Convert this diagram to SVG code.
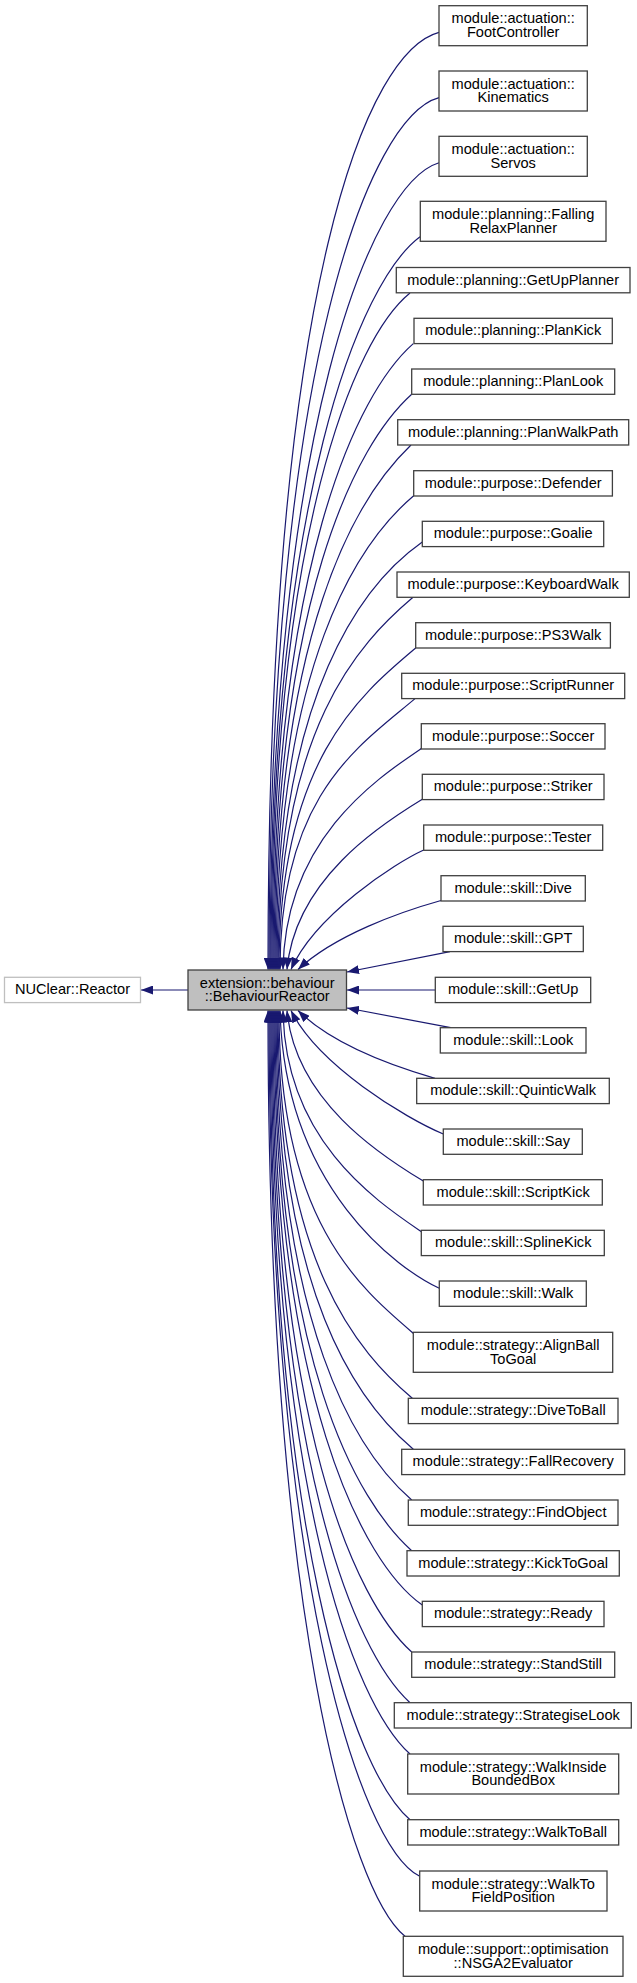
<svg xmlns="http://www.w3.org/2000/svg" width="637" height="1983" viewBox="0 0 637 1983">
<style>
.n rect{fill:#ffffff;stroke:#404040;stroke-width:1.3}
.main rect{fill:#bfbfbf;stroke:#404040;stroke-width:1.3}
.ext rect{fill:#ffffff;stroke:#bfbfbf;stroke-width:1.3}
text{font-family:"Liberation Sans",Arial,sans-serif;font-size:14.6px;text-anchor:middle;fill:#000000}
.e path{fill:none;stroke:#191970;stroke-width:1.2;marker-end:url(#ah)}
</style>
<defs>
<marker id="ah" viewBox="0 0 12 9" refX="12" refY="4.5" markerWidth="12" markerHeight="9" markerUnits="userSpaceOnUse" orient="auto">
<path d="M0,0 L12,4.5 L0,9 z" fill="#191970"/>
</marker>
</defs>
<rect x="0" y="0" width="637" height="1983" fill="#ffffff"/>
<g id="edges" class="e">
<path d="M188,990 L141,990"/>
<path d="M439,32.3 C370.6,50.1 268,266.6 268,969.5"/>
<path d="M439,97.7 C371,116.1 269,359.2 269,969.5"/>
<path d="M439,162.7 C371.4,183 270,428.9 270,969.5"/>
<path d="M420,236.7 C360.4,281.4 271,493.2 271,969.5"/>
<path d="M410,293 C354.8,337.5 272,530 272,969.5"/>
<path d="M413.3,343.6 C357.2,392.8 273,562.9 273,969.5"/>
<path d="M411.7,394.3 C356.6,443.9 274,595.6 274,969.5"/>
<path d="M411,445 C356.6,497 275,628.8 275,969.5"/>
<path d="M413.7,495.7 C358.6,542.5 276,661.5 276,969.5"/>
<path d="M422.3,542 C364.2,582.7 277,691.6 277,969.5"/>
<path d="M413,597.3 C359,643.2 278,727.6 278,969.5"/>
<path d="M415.7,648 C361,694 279,760.2 279,969.5"/>
<path d="M415,698.6 C361,744.6 280,793.5 280,969.5"/>
<path d="M421.3,748.5 C375,780 285,840 283,969.5"/>
<path d="M422.3,799.3 C380,825 295,880 287,969.5"/>
<path d="M423.7,850 C395,863 315,915 291,969.5"/>
<path d="M441,900.5 C400,912 335,935 298,969.5"/>
<path d="M450,951.6 L347,972"/>
<path d="M435.3,990 L347,990"/>
<path d="M450.7,1027.7 L347,1008"/>
<path d="M435,1078.3 C396,1067 333,1045 298,1010.5"/>
<path d="M443.3,1134 C405,1118 318,1065 291,1010.5"/>
<path d="M423.3,1181 C380,1155 295,1100 287,1010.5"/>
<path d="M421.3,1231.7 C375,1200 285,1140 283,1010.5"/>
<path d="M439.3,1288.3 C400,1270 285,1190 280,1010.5"/>
<path d="M413.3,1333.3 C359.6,1287.6 279,1220.3 279,1010.5"/>
<path d="M412.3,1398.3 C358.6,1352.6 278,1262.6 278,1010.5"/>
<path d="M413.3,1449.3 C358.8,1403 277,1295.7 277,1010.5"/>
<path d="M411.7,1500 C357.4,1452.8 276,1328.7 276,1010.5"/>
<path d="M411.7,1550.7 C357,1501.5 275,1361.6 275,1010.5"/>
<path d="M422.3,1605 C363,1563.5 274,1396.9 274,1010.5"/>
<path d="M411.7,1652 C356.2,1602.1 273,1427.5 273,1010.5"/>
<path d="M410,1702.7 C354.8,1653 272,1460.4 272,1010.5"/>
<path d="M410,1754 C354.4,1704 271,1493.8 271,1010.5"/>
<path d="M410,1819.7 C354,1772.1 270,1536.5 270,1010.5"/>
<path d="M419.7,1876.3 C359.4,1846.2 269,1573.3 269,1010.5"/>
<path d="M405,1936.3 C350.2,1892.5 268,1612.3 268,1010.5"/>
</g>
<g id="n_nuclear_reactor" class="ext"><rect x="4.5" y="977.3" width="136" height="25.3"/><text x="72.5" y="994.3">NUClear::Reactor</text></g>
<g id="n_behaviour_reactor" class="main"><rect x="188" y="970" width="158.5" height="40"/><text x="267.2" y="987.5">extension::behaviour</text><text x="267.2" y="1001.2">::BehaviourReactor</text></g>
<g id="n_footcontroller" class="n"><rect x="439" y="5.7" width="148.3" height="40"/><text x="513.2" y="23.2">module::actuation::</text><text x="513.2" y="36.9">FootController</text></g>
<g id="n_kinematics" class="n"><rect x="439" y="71" width="148.3" height="40"/><text x="513.2" y="88.5">module::actuation::</text><text x="513.2" y="102.2">Kinematics</text></g>
<g id="n_servos" class="n"><rect x="439" y="136.3" width="148.3" height="40"/><text x="513.2" y="153.8">module::actuation::</text><text x="513.2" y="167.5">Servos</text></g>
<g id="n_fallingrelaxplanner" class="n"><rect x="420.3" y="201.3" width="185.7" height="40"/><text x="513.2" y="218.8">module::planning::Falling</text><text x="513.2" y="232.5">RelaxPlanner</text></g>
<g id="n_getupplanner" class="n"><rect x="396.3" y="267.5" width="233.7" height="25.3"/><text x="513.2" y="284.5">module::planning::GetUpPlanner</text></g>
<g id="n_plankick" class="n"><rect x="414" y="318.3" width="198.3" height="25.3"/><text x="513.2" y="335.3">module::planning::PlanKick</text></g>
<g id="n_planlook" class="n"><rect x="411.7" y="369" width="203" height="25.3"/><text x="513.2" y="386">module::planning::PlanLook</text></g>
<g id="n_planwalkpath" class="n"><rect x="397.7" y="419.7" width="231" height="25.3"/><text x="513.2" y="436.7">module::planning::PlanWalkPath</text></g>
<g id="n_defender" class="n"><rect x="413.7" y="470.7" width="198.7" height="25.3"/><text x="513.2" y="487.7">module::purpose::Defender</text></g>
<g id="n_goalie" class="n"><rect x="422.3" y="521.3" width="181.4" height="25.3"/><text x="513.2" y="538.3">module::purpose::Goalie</text></g>
<g id="n_keyboardwalk" class="n"><rect x="397" y="572" width="232.3" height="25.3"/><text x="513.2" y="589">module::purpose::KeyboardWalk</text></g>
<g id="n_ps3walk" class="n"><rect x="415.7" y="622.7" width="194.7" height="25.3"/><text x="513.2" y="639.7">module::purpose::PS3Walk</text></g>
<g id="n_scriptrunner" class="n"><rect x="401.7" y="673.3" width="223" height="25.3"/><text x="513.2" y="690.3">module::purpose::ScriptRunner</text></g>
<g id="n_soccer" class="n"><rect x="421.3" y="723.7" width="183.7" height="25.3"/><text x="513.2" y="740.7">module::purpose::Soccer</text></g>
<g id="n_striker" class="n"><rect x="422.3" y="774.3" width="181.7" height="25.3"/><text x="513.2" y="791.3">module::purpose::Striker</text></g>
<g id="n_tester" class="n"><rect x="423.7" y="825" width="179" height="25.3"/><text x="513.2" y="842">module::purpose::Tester</text></g>
<g id="n_dive" class="n"><rect x="441" y="875.7" width="144.3" height="25.3"/><text x="513.2" y="892.7">module::skill::Dive</text></g>
<g id="n_gpt" class="n"><rect x="443" y="926.3" width="140.3" height="25.3"/><text x="513.2" y="943.3">module::skill::GPT</text></g>
<g id="n_getup" class="n"><rect x="435.3" y="977.3" width="155.4" height="25.3"/><text x="513.2" y="994.3">module::skill::GetUp</text></g>
<g id="n_look" class="n"><rect x="440.3" y="1027.7" width="145.7" height="25.3"/><text x="513.2" y="1044.7">module::skill::Look</text></g>
<g id="n_quinticwalk" class="n"><rect x="416.7" y="1078.3" width="192.6" height="25.3"/><text x="513.2" y="1095.3">module::skill::QuinticWalk</text></g>
<g id="n_say" class="n"><rect x="443.3" y="1129" width="139" height="25.3"/><text x="513.2" y="1146">module::skill::Say</text></g>
<g id="n_scriptkick" class="n"><rect x="423.3" y="1179.7" width="179" height="25.3"/><text x="513.2" y="1196.7">module::skill::ScriptKick</text></g>
<g id="n_splinekick" class="n"><rect x="421.3" y="1230.3" width="183" height="25.3"/><text x="513.2" y="1247.3">module::skill::SplineKick</text></g>
<g id="n_walk" class="n"><rect x="439.3" y="1281" width="147" height="25.3"/><text x="513.2" y="1298">module::skill::Walk</text></g>
<g id="n_alignballtogoal" class="n"><rect x="413.3" y="1332.3" width="199.4" height="40"/><text x="513.2" y="1349.8">module::strategy::AlignBall</text><text x="513.2" y="1363.5">ToGoal</text></g>
<g id="n_divetoball" class="n"><rect x="408.3" y="1398.3" width="209.7" height="25.3"/><text x="513.2" y="1415.3">module::strategy::DiveToBall</text></g>
<g id="n_fallrecovery" class="n"><rect x="401.7" y="1449.3" width="223" height="25.3"/><text x="513.2" y="1466.3">module::strategy::FallRecovery</text></g>
<g id="n_findobject" class="n"><rect x="408.3" y="1500" width="209.7" height="25.3"/><text x="513.2" y="1517">module::strategy::FindObject</text></g>
<g id="n_kicktogoal" class="n"><rect x="407" y="1550.7" width="212.3" height="25.3"/><text x="513.2" y="1567.7">module::strategy::KickToGoal</text></g>
<g id="n_ready" class="n"><rect x="422.3" y="1601.3" width="181.7" height="25.3"/><text x="513.2" y="1618.3">module::strategy::Ready</text></g>
<g id="n_standstill" class="n"><rect x="411.7" y="1652" width="203" height="25.3"/><text x="513.2" y="1669">module::strategy::StandStill</text></g>
<g id="n_strategiselook" class="n"><rect x="394.3" y="1702.7" width="237" height="25.3"/><text x="513.2" y="1719.7">module::strategy::StrategiseLook</text></g>
<g id="n_walkinsideboundedbox" class="n"><rect x="407.7" y="1754" width="211" height="40"/><text x="513.2" y="1771.5">module::strategy::WalkInside</text><text x="513.2" y="1785.2">BoundedBox</text></g>
<g id="n_walktoball" class="n"><rect x="407.7" y="1819.7" width="211" height="25.3"/><text x="513.2" y="1836.7">module::strategy::WalkToBall</text></g>
<g id="n_walktofieldposition" class="n"><rect x="419.7" y="1871" width="187.3" height="40"/><text x="513.2" y="1888.5">module::strategy::WalkTo</text><text x="513.2" y="1902.2">FieldPosition</text></g>
<g id="n_nsga2evaluator" class="n"><rect x="403.3" y="1936.3" width="219.7" height="40"/><text x="513.2" y="1953.8">module::support::optimisation</text><text x="513.2" y="1967.5">::NSGA2Evaluator</text></g>
</svg>
